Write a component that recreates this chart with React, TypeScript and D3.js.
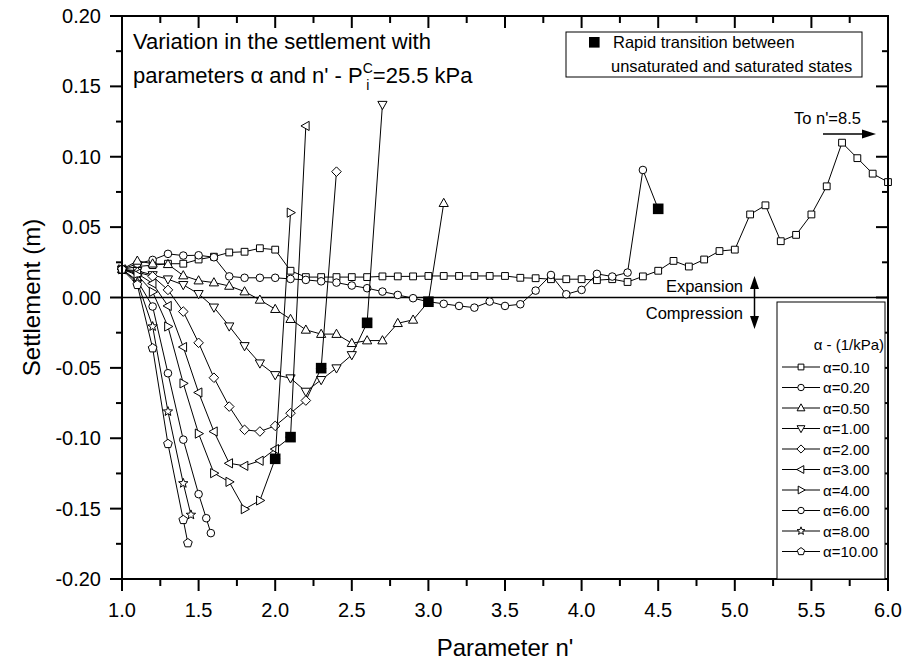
import React from "react";
import * as d3 from "d3";

// Settlement (m) against n' for each alpha (1/kPa)
const a010: [number, number][] = [
  [1.0, 0.02], [1.1, 0.022], [1.2, 0.023], [1.3, 0.024], [1.4, 0.024], [1.5, 0.027], [1.6, 0.029],
  [1.7, 0.032], [1.8, 0.0325], [1.9, 0.035], [2.0, 0.034], [2.1, 0.019], [2.2, 0.0145], [2.3, 0.0145],
  [2.4, 0.0145], [2.5, 0.0145], [2.6, 0.0145], [2.7, 0.015], [2.8, 0.015], [2.9, 0.015], [3.0, 0.0153],
  [3.1, 0.0153], [3.2, 0.0153], [3.3, 0.0153], [3.4, 0.0153], [3.5, 0.0153], [3.6, 0.014], [3.7, 0.0137],
  [3.8, 0.013], [3.9, 0.013], [4.0, 0.013], [4.1, 0.0123], [4.2, 0.013], [4.3, 0.011], [4.4, 0.015],
  [4.5, 0.019], [4.6, 0.026], [4.7, 0.022], [4.8, 0.027], [4.9, 0.033], [5.0, 0.034], [5.1, 0.059],
  [5.2, 0.0655], [5.3, 0.04], [5.4, 0.0445], [5.5, 0.059], [5.6, 0.079], [5.7, 0.11], [5.8, 0.099],
  [5.9, 0.088], [6.0, 0.082],
];
const a020: [number, number][] = [
  [1.0, 0.02], [1.1, 0.024], [1.2, 0.0267], [1.3, 0.031], [1.4, 0.0298], [1.5, 0.03], [1.6, 0.0286],
  [1.7, 0.015], [1.8, 0.014], [1.9, 0.014], [2.0, 0.014], [2.1, 0.0132], [2.2, 0.0125], [2.3, 0.0115],
  [2.4, 0.0106], [2.5, 0.0085], [2.6, 0.0066], [2.7, 0.0042], [2.8, 0.0018], [2.9, -0.0005], [3.0, -0.003],
  [3.1, -0.0045], [3.2, -0.006], [3.3, -0.0072], [3.4, -0.0029], [3.5, -0.006], [3.6, -0.0048],
  [3.7, 0.0049], [3.8, 0.016], [3.9, 0.0023], [4.0, 0.0054], [4.1, 0.0168], [4.2, 0.0149], [4.3, 0.0177],
  [4.4, 0.0906], [4.5, 0.063],
];
const a050: [number, number][] = [
  [1.0, 0.02], [1.1, 0.026], [1.2, 0.024], [1.3, 0.0236], [1.4, 0.0156], [1.5, 0.012], [1.6, 0.0106],
  [1.7, 0.0082], [1.8, 0.0042], [1.9, -0.0017], [2.0, -0.0083], [2.1, -0.0154], [2.2, -0.023],
  [2.3, -0.026], [2.4, -0.026], [2.5, -0.0325], [2.6, -0.0306], [2.7, -0.0306], [2.8, -0.0183],
  [2.9, -0.0159], [3.0, -0.003], [3.1, 0.067],
];
const a100: [number, number][] = [
  [1.0, 0.02], [1.1, 0.019], [1.2, 0.016], [1.3, 0.013], [1.4, 0.009], [1.5, 0.0026], [1.6, -0.007],
  [1.7, -0.0204], [1.8, -0.0344], [1.9, -0.0467], [2.0, -0.055], [2.1, -0.0573], [2.2, -0.0668],
  [2.3, -0.0585], [2.4, -0.0502], [2.5, -0.0408], [2.6, -0.018], [2.7, 0.137],
];
const a200: [number, number][] = [
  [1.0, 0.02], [1.1, 0.018], [1.2, 0.015], [1.3, 0.0054], [1.4, -0.01], [1.5, -0.0322], [1.6, -0.057],
  [1.7, -0.0775], [1.8, -0.094], [1.9, -0.0952], [2.0, -0.0912], [2.1, -0.0822], [2.2, -0.0732],
  [2.3, -0.0502], [2.4, 0.0894],
];
const a300: [number, number][] = [
  [1.0, 0.02], [1.1, 0.017], [1.2, 0.01], [1.3, -0.006], [1.4, -0.0352], [1.5, -0.0675], [1.6, -0.0952],
  [1.7, -0.1178], [1.8, -0.1196], [1.9, -0.116], [2.0, -0.1077], [2.1, -0.0992], [2.2, 0.1219],
];
const a400: [number, number][] = [
  [1.0, 0.02], [1.1, 0.016], [1.2, 0.004], [1.3, -0.0206], [1.4, -0.061], [1.5, -0.0967], [1.6, -0.1248],
  [1.7, -0.131], [1.8, -0.1504], [1.9, -0.1442], [2.0, -0.1146], [2.1, 0.0603],
];
const a600: [number, number][] = [
  [1.0, 0.02], [1.1, 0.012], [1.2, -0.0064], [1.3, -0.0538], [1.4, -0.101], [1.5, -0.1397],
  [1.55, -0.1568], [1.58, -0.1674],
];
const a800: [number, number][] = [
  [1.0, 0.02], [1.1, 0.011], [1.2, -0.0206], [1.3, -0.081], [1.4, -0.132], [1.45, -0.1544],
];
const a1000: [number, number][] = [
  [1.0, 0.02], [1.1, 0.009], [1.2, -0.036], [1.3, -0.104], [1.4, -0.158], [1.43, -0.1745],
];

// Points of rapid transition between unsaturated and saturated states
const transitionPts: [number, number][] = [
  [2.0, -0.1146], [2.1, -0.0992], [2.3, -0.0502], [2.6, -0.018], [3.0, -0.003], [4.5, 0.063],
];

const alphaLabels = ["α=0.10", "α=0.20", "α=0.50", "α=1.00", "α=2.00", "α=3.00", "α=4.00", "α=6.00", "α=8.00", "α=10.00"];
const markerKinds = ["square", "circle", "triUp", "triDown", "diamond", "triLeft", "triRight", "circle", "star", "pentagon"];
const seriesData = [a010, a020, a050, a100, a200, a300, a400, a600, a800, a1000];

const xMajor = d3.range(1, 6.001, 0.5);
const xMinor = d3.range(1.25, 6, 0.5);
const yMajor = d3.range(-0.2, 0.2001, 0.05);
const yMinor = d3.range(-0.175, 0.2, 0.05);

const W = 906;
const H = 669;
const L = 122, R = 888, T = 16, B = 579;
const FONT = "'Liberation Sans', Arial, Helvetica, sans-serif";

function markerPath(kind: string, k = 1): string {
  const p = (pts: number[][]) => "M" + pts.map((q) => `${q[0] * k},${q[1] * k}`).join("L") + "Z";
  switch (kind) {
    case "square":
      return p([[-3.4, -3.4], [3.4, -3.4], [3.4, 3.4], [-3.4, 3.4]]);
    case "circle": {
      const r = 3.8 * k;
      return `M${-r},0A${r},${r} 0 1,0 ${r},0A${r},${r} 0 1,0 ${-r},0Z`;
    }
    case "triUp":
      return p([[0, -4.9], [4.6, 3.3], [-4.6, 3.3]]);
    case "triDown":
      return p([[0, 4.9], [4.6, -3.3], [-4.6, -3.3]]);
    case "triLeft":
      return p([[-4.9, 0], [3.3, -4.6], [3.3, 4.6]]);
    case "triRight":
      return p([[4.9, 0], [-3.3, -4.6], [-3.3, 4.6]]);
    case "diamond":
      return p([[0, -4.8], [4.8, 0], [0, 4.8], [-4.8, 0]]);
    case "star": {
      const pts: number[][] = [];
      for (let i = 0; i < 10; i++) {
        const r = i % 2 === 0 ? 4.9 : 2.1;
        const a = -Math.PI / 2 + (i * Math.PI) / 5;
        pts.push([r * Math.cos(a), r * Math.sin(a)]);
      }
      return p(pts);
    }
    case "pentagon": {
      const pts: number[][] = [];
      for (let i = 0; i < 5; i++) {
        const a = -Math.PI / 2 + (i * 2 * Math.PI) / 5;
        pts.push([4.6 * Math.cos(a), 4.6 * Math.sin(a)]);
      }
      return p(pts);
    }
  }
  return "";
}

export default function App() {
  const x = d3.scaleLinear().domain([1, 6]).range([L, R]);
  const y = d3.scaleLinear().domain([-0.2, 0.2]).range([B, T]);
  const line = d3
    .line<[number, number]>()
    .x((d) => x(d[0]))
    .y((d) => y(d[1]));
  const fx = d3.format(".1f");
  // plain hyphen for negative tick labels
  const fy = (v: number) => d3.format(".2f")(Math.abs(v) < 1e-9 ? 0 : v).replace("\u2212", "-");

  const legendTop = 367;
  const legendStep = 20.5;

  return (
    <svg
      width={W}
      height={H}
      viewBox={`0 0 ${W} ${H}`}
      style={{ position: "fixed", left: 0, top: 0, background: "#fff", fontFamily: FONT }}
    >
      <rect x={0} y={0} width={W} height={H} fill="#fff" />

      {/* zero line */}
      <line x1={L} x2={R} y1={y(0)} y2={y(0)} stroke="#000" strokeWidth={1.6} />

      {/* series */}
      {seriesData.map((data, i) => (
        <g key={i}>
          <path d={line(data) || ""} fill="none" stroke="#000" strokeWidth={1} />
          {data.map((d, j) => (
            <path
              key={j}
              d={markerPath(markerKinds[i])}
              transform={`translate(${x(d[0])},${y(d[1])})`}
              fill="#fff"
              stroke="#000"
              strokeWidth={1}
            />
          ))}
        </g>
      ))}

      {/* transition points */}
      {transitionPts.map((d, i) => (
        <rect key={i} x={x(d[0]) - 5.3} y={y(d[1]) - 5.3} width={10.6} height={10.6} fill="#000" />
      ))}

      {/* frame */}
      <rect x={L} y={T} width={R - L} height={B - T} fill="none" stroke="#000" strokeWidth={2} />

      {/* bottom & top ticks */}
      {xMajor.map((v) => (
        <g key={"xM" + v}>
          <line x1={x(v)} x2={x(v)} y1={B} y2={B + 12} stroke="#000" strokeWidth={2} />
          <line x1={x(v)} x2={x(v)} y1={T} y2={T + 12} stroke="#000" strokeWidth={2} />
          <text x={x(v)} y={617} textAnchor="middle" fontSize={20}>
            {fx(v)}
          </text>
        </g>
      ))}
      {xMinor.map((v) => (
        <g key={"xm" + v}>
          <line x1={x(v)} x2={x(v)} y1={B} y2={B + 7} stroke="#000" strokeWidth={2} />
          <line x1={x(v)} x2={x(v)} y1={T} y2={T + 7} stroke="#000" strokeWidth={2} />
        </g>
      ))}

      {/* left & right ticks */}
      {yMajor.map((v) => (
        <g key={"yM" + v}>
          <line x1={L - 12} x2={L} y1={y(v)} y2={y(v)} stroke="#000" strokeWidth={2} />
          <line x1={R - 12} x2={R} y1={y(v)} y2={y(v)} stroke="#000" strokeWidth={2} />
          <text x={101} y={y(v) + 7} textAnchor="end" fontSize={20}>
            {fy(v)}
          </text>
        </g>
      ))}
      {yMinor.map((v) => (
        <g key={"ym" + v}>
          <line x1={L - 6} x2={L} y1={y(v)} y2={y(v)} stroke="#000" strokeWidth={2} />
          <line x1={R - 6} x2={R} y1={y(v)} y2={y(v)} stroke="#000" strokeWidth={2} />
        </g>
      ))}

      {/* axis titles */}
      <text x={(L + R) / 2} y={656} textAnchor="middle" fontSize={24}>
        Parameter n'
      </text>
      <text transform={`translate(40,${(T + B) / 2}) rotate(-90)`} textAnchor="middle" fontSize={24}>
        Settlement (m)
      </text>

      {/* caption */}
      <text x={133} y={49} fontSize={22}>
        Variation in the settlement with
      </text>
      <text x={133} y={83} fontSize={22}>
        parameters α and n' - P
        <tspan dy={-10} fontSize={14}>C</tspan>
        <tspan dx={-6.6} dy={17} fontSize={14}>i</tspan>
        <tspan dx={3.5} dy={-7}>=25.5 kPa</tspan>
      </text>

      {/* transition key */}
      <rect x={566} y={32} width={296} height={45} fill="#fff" stroke="#000" strokeWidth={1} />
      <rect x={589} y={37} width={10.6} height={10.6} fill="#000" />
      <text x={613} y={48} fontSize={16.5}>
        Rapid transition between
      </text>
      <text x={611} y={72} fontSize={16.5}>
        unsaturated and saturated states
      </text>

      {/* continuation note */}
      <text x={794} y={124} fontSize={16.5}>
        To n'=8.5
      </text>
      <line x1={823} x2={866} y1={134} y2={134} stroke="#000" strokeWidth={1.5} />
      <path d="M876,134L862,129.5L862,138.5Z" fill="#000" />

      {/* expansion / compression */}
      <text x={743} y={292} textAnchor="end" fontSize={16.5}>
        Expansion
      </text>
      <text x={743} y={319} textAnchor="end" fontSize={16.5}>
        Compression
      </text>
      <line x1={754.5} x2={754.5} y1={285} y2={320} stroke="#000" strokeWidth={1.5} />
      <path d="M754.5,276L750,289L759,289Z" fill="#000" />
      <path d="M754.5,329L750,316L759,316Z" fill="#000" />

      {/* legend */}
      <rect x={777} y={302} width={108} height={B - 302} fill="#fff" stroke="#000" strokeWidth={1} />
      <text x={884} y={350} textAnchor="end" fontSize={15}>
        α - (1/kPa)
      </text>
      {alphaLabels.map((lab, i) => {
        const yy = legendTop + i * legendStep;
        return (
          <g key={lab}>
            <line x1={782} x2={820} y1={yy} y2={yy} stroke="#000" strokeWidth={1} />
            <path
              d={markerPath(markerKinds[i], 0.85)}
              transform={`translate(801,${yy})`}
              fill="#fff"
              stroke="#000"
              strokeWidth={1}
            />
            <text x={823} y={yy + 5.5} fontSize={15}>
              {lab}
            </text>
          </g>
        );
      })}
    </svg>
  );
}
